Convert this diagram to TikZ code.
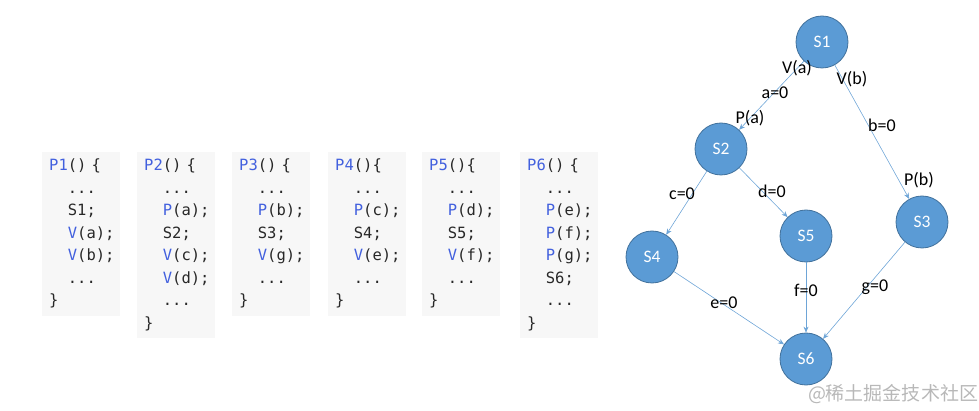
\documentclass[tikz,border=0pt]{standalone}
\usepackage{fontspec}
\usepackage{xcolor}
\usepackage{tikz}
\usetikzlibrary{arrows.meta, positioning}
\newfontfamily\codefont{DejaVu Sans Mono}
\newfontfamily\calfont{Carlito}
\newfontfamily\cjkfont{Noto Sans CJK SC}
\definecolor{kwblue}{RGB}{66,96,222}
\definecolor{codegray}{RGB}{40,40,40}
\definecolor{boxgray}{RGB}{247,247,247}
\definecolor{nodeblue}{RGB}{91,155,213}
\definecolor{nodeedge}{RGB}{65,113,156}
\definecolor{lineblue}{RGB}{110,165,215}
\newcommand{\kw}[1]{\textcolor{kwblue}{#1}}
\newcommand{\ind}{\phantom{xx}}

\begin{document}
\begin{tikzpicture}[
				x=1pt, y=-1pt,
				code/.style={rectangle, fill=boxgray, anchor=north west, inner xsep=7pt, inner ysep=7pt,
					text width=64pt, align=left, text=codegray,
					font=\codefont\fontsize{15.5}{22.5}\selectfont},
				state/.style={circle, fill=nodeblue, draw=nodeedge, line width=0.8pt,
					minimum size=52pt, inner sep=0pt, text=white,
					font=\calfont\fontsize{17.5}{17.5}\selectfont},
				flow/.style={-{Stealth[length=6pt, width=5pt]}, draw=lineblue, line width=0.6pt},
				elabel/.style={inner sep=0pt, font=\calfont\fontsize{18}{18}\selectfont}
				]
				\useasboundingbox (0,0) rectangle (979,411);

				\node[code] (p1) at (42,152) {\kw{P1}() \{\\ \ind...\\ \ind S1;\\ \ind\kw{V}(a);\\ \ind\kw{V}(b);\\ \ind...\\ \}};
				\node[code] (p2) at (137,152) {\kw{P2}() \{\\ \ind...\\ \ind\kw{P}(a);\\ \ind S2;\\ \ind\kw{V}(c);\\ \ind\kw{V}(d);\\ \ind...\\ \}};
				\node[code] (p3) at (232,152) {\kw{P3}() \{\\ \ind...\\ \ind\kw{P}(b);\\ \ind S3;\\ \ind\kw{V}(g);\\ \ind...\\ \}};
				\node[code] (p4) at (328,152) {\kw{P4}()\{\\ \ind...\\ \ind\kw{P}(c);\\ \ind S4;\\ \ind\kw{V}(e);\\ \ind...\\ \}};
				\node[code] (p5) at (422,152) {\kw{P5}()\{\\ \ind...\\ \ind\kw{P}(d);\\ \ind S5;\\ \ind\kw{V}(f);\\ \ind...\\ \}};
				\node[code] (p6) at (520,152) {\kw{P6}() \{\\ \ind...\\ \ind\kw{P}(e);\\ \ind\kw{P}(f);\\ \ind\kw{P}(g);\\ \ind S6;\\ \ind...\\ \}};

				\node[state] (s1) at (822,42) {S1};
				\node[state] (s2) at (721,149) {S2};
				\node[state] (s3) at (922,222) {S3};
				\node[state] (s4) at (652,257) {S4};
				\node[state] (s5) at (806,236) {S5};
				\node[state] (s6) at (806,359) {S6};

				\draw[flow] (s1) -- (s2);
				\draw[flow] (s1) -- (s3);
				\draw[flow] (s2) -- (s4);
				\draw[flow] (s2) -- (s5);
				\draw[flow] (s4) -- (s6);
				\draw[flow] (s5) -- (s6);
				\draw[flow] (s3) -- (s6);

				\node[elabel] (va) at (797,68) {V(a)};
				\node[elabel] (a0) at (775,92.5) {a=0};
				\node[elabel] (pa) at (750,118.5) {P(a)};
				\node[elabel] (vb) at (852,79) {V(b)};
				\node[elabel] (b0) at (882,125) {b=0};
				\node[elabel] (pb) at (919,180) {P(b)};
				\node[elabel] (c0) at (682,194) {c=0};
				\node[elabel] (d0) at (772,191) {d=0};
				\node[elabel] (e0) at (724,303) {e=0};
				\node[elabel] (f0) at (806,290) {f=0};
				\node[elabel] (g0) at (875,287) {g=0};

				\node[inner sep=0pt, text=black!28, font=\cjkfont\fontsize{19}{19}\selectfont] (mark) at (893,394) {@稀土掘金技术社区};
			\end{tikzpicture}
\end{document}
